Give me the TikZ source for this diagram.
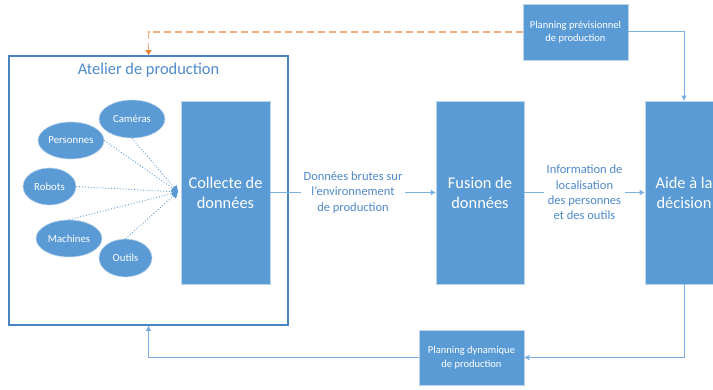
\documentclass[tikz,border=0pt]{standalone}
\usepackage{fontspec}
\setmainfont{Carlito}
\usetikzlibrary{arrows.meta,shapes.geometric}
\definecolor{boxblue}{HTML}{5B9BD5}
\definecolor{edgeblue}{HTML}{BDD3EA}
\definecolor{linkblue}{HTML}{7DB0E0}
\definecolor{frameblue}{HTML}{4A84C0}
\definecolor{textblue}{HTML}{4F8ACB}
\definecolor{dashorange}{HTML}{F4AE80}
\definecolor{tiporange}{HTML}{ED7D31}
\begin{document}
\begin{tikzpicture}[x=1pt,y=-1pt,
 bigbox/.style={rectangle, fill=boxblue, draw=edgeblue, line width=0.8pt, text=white, align=center, font=\fontsize{16.4}{20}\selectfont, inner sep=0pt},
 smallbox/.style={rectangle, fill=boxblue, draw=edgeblue, line width=0.8pt, text=white, align=center, font=\fontsize{10.5}{13.5}\selectfont, inner sep=0pt},
 blob/.style={ellipse, fill=boxblue, draw=edgeblue, line width=0.6pt, text=white, font=\fontsize{10.8}{13}\selectfont, inner sep=0pt},
 link/.style={draw=linkblue, line width=1pt, -{Triangle[length=5pt,width=5pt]}},
 feed/.style={draw=boxblue, dotted, line width=0.9pt, -{Triangle[length=6pt,width=7pt]}},
 lbl/.style={fill=white, text=textblue, align=center, font=\fontsize{12.5}{15.3}\selectfont, inner sep=3pt}
]
\clip (0,0) rectangle (713,390);
\fill[white] (0,0) rectangle (713,390);

% frame
\node[draw=frameblue, line width=1.8pt, minimum width=279pt, minimum height=269pt, inner sep=0pt] (atelier) at (148.5,190.5) {};
\node[text=textblue, font=\fontsize{16.4}{20}\selectfont, inner sep=0pt] (titre) at (148.5,70) {Atelier de production};

% main boxes
\node[bigbox, minimum width=89pt, minimum height=183pt] (collecte) at (225.5,192.5) {Collecte de\\données};
\node[bigbox, minimum width=88pt, minimum height=183pt] (fusion) at (480,192.5) {Fusion de\\données};
\node[bigbox, minimum width=78pt, minimum height=183pt] (aide) at (684,192.5) {Aide à la\\décision};
\node[smallbox, minimum width=105pt, minimum height=56pt] (prev) at (575.5,32) {Planning prévisionnel\\de production};
\node[smallbox, minimum width=105pt, minimum height=55pt] (dyn) at (471.5,357.5) {Planning dynamique\\de production};

% ellipses
\node[blob, minimum width=66pt, minimum height=38pt] (cam) at (132,119) {Caméras};
\node[blob, minimum width=66pt, minimum height=37pt] (pers) at (71,140.5) {Personnes};
\node[blob, minimum width=53pt, minimum height=37pt] (rob) at (49.5,186.5) {Robots};
\node[blob, minimum width=66pt, minimum height=37pt] (mach) at (69,238.5) {Machines};
\node[blob, minimum width=53pt, minimum height=38pt] (out) at (125.5,258) {Outils};

\coordinate (conv) at (178,192);
\draw[feed] (cam.south) -- (conv);
\draw[feed] (pers.east) -- (conv);
\draw[feed] (rob.east) -- (conv);
\draw[feed] (mach.north) -- (conv);
\draw[feed] (out.north) -- (conv);

% connectors
\draw[link] (collecte.east) -- node[lbl] {Données brutes sur\\l’environnement\\de production} (fusion.west);
\draw[link] (fusion.east) -- node[lbl] {Information de\\localisation\\des personnes\\et des outils} (aide.west);
\draw[link] (prev.east) -| (aide.north);
\draw[link] (aide.south) |- (dyn.east);
\draw[link] (dyn.west) -| (atelier.south);
\draw[draw=dashorange, line width=1.2pt, dash pattern=on 7pt off 4pt, -{Triangle[length=5pt,width=6pt,color=tiporange]}] (prev.west) -| (atelier.north);
\end{tikzpicture}
\end{document}
